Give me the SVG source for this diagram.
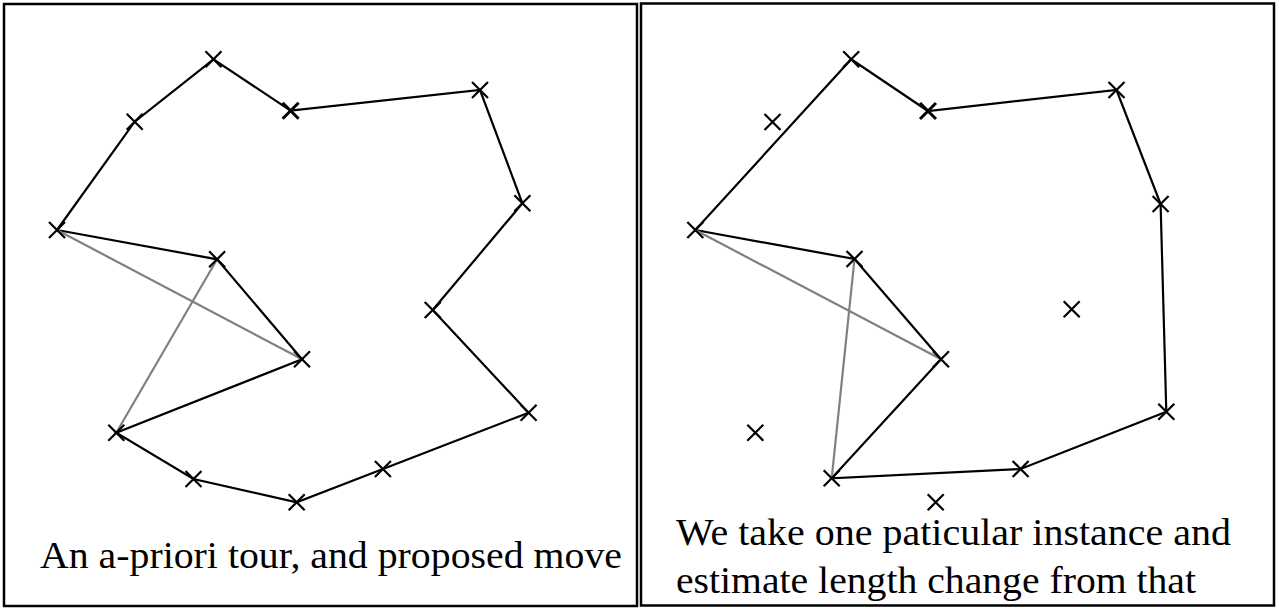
<svg xmlns="http://www.w3.org/2000/svg" width="1279" height="609" viewBox="0 0 1279 609">
<defs>
<style>
.frame{fill:#fff;stroke:#000;stroke-width:2.5}
.edge{stroke:#000;stroke-width:2.2;fill:none}
.move{stroke:#808080;stroke-width:2.2;fill:none}
.city{stroke:#000;stroke-width:2.2}
.lbl{font-family:"Liberation Serif","Times New Roman",serif;font-size:38px;fill:#000}
</style>
<path id="x" d="M-8,-8L8,8M-8,8L8,-8"/>
</defs>
<rect width="1279" height="609" fill="#fff"/>
<g id="panel-left">
<rect class="frame" x="4" y="4" width="633" height="602"/>
<g id="left-connectors">
<polyline class="edge" points="57,230 134.7,121.7 213.5,59.3 290.6,110.7 480,90 522.4,203.3 432.7,310 528.6,412.7 382.9,469 296.7,502.3 193.5,479 116.3,432.7 302,359.3 217.1,259.3 57,230"/>
<line class="move" x1="57" y1="230" x2="302" y2="359.3"/>
<line class="move" x1="217.1" y1="259.3" x2="116.3" y2="432.7"/>
</g>
<g id="left-cities" class="city">
<use href="#x" x="57" y="230"/>
<use href="#x" x="134.7" y="121.7"/>
<use href="#x" x="213.5" y="59.3"/>
<use href="#x" x="290.6" y="110.7" style="stroke-width:3"/>
<use href="#x" x="480" y="90"/>
<use href="#x" x="522.4" y="203.3"/>
<use href="#x" x="432.7" y="310"/>
<use href="#x" x="528.6" y="412.7"/>
<use href="#x" x="382.9" y="469"/>
<use href="#x" x="296.7" y="502.3"/>
<use href="#x" x="193.5" y="479"/>
<use href="#x" x="116.3" y="432.7"/>
<use href="#x" x="302" y="359.3"/>
<use href="#x" x="217.1" y="259.3"/>
</g>
<text class="lbl" x="40" y="568" textLength="582" lengthAdjust="spacingAndGlyphs">An a-priori tour, and proposed move</text>
</g>
<g id="panel-right">
<rect class="frame" x="641" y="3.5" width="633" height="602"/>
<g id="right-connectors">
<polyline class="edge" points="695.3,230 851.2,59.3 928,111 1116.5,90 1160.6,204 1166.3,411.7 1020.6,469 831.7,478.3 941,359.3 854.5,259 695.3,230"/>
<line class="move" x1="695.3" y1="230" x2="941" y2="359.3"/>
<line class="move" x1="854.5" y1="259" x2="831.7" y2="478.3"/>
</g>
<g id="right-cities" class="city">
<use href="#x" x="695.3" y="230"/>
<use href="#x" x="772.5" y="122"/>
<use href="#x" x="851.2" y="59.3"/>
<use href="#x" x="928" y="111" style="stroke-width:3"/>
<use href="#x" x="1116.5" y="90"/>
<use href="#x" x="1160.6" y="204"/>
<use href="#x" x="1071.7" y="309.3"/>
<use href="#x" x="1166.3" y="411.7"/>
<use href="#x" x="1020.6" y="469"/>
<use href="#x" x="935.7" y="502.3"/>
<use href="#x" x="831.7" y="478.3"/>
<use href="#x" x="755.3" y="432.7"/>
<use href="#x" x="941" y="359.3"/>
<use href="#x" x="854.5" y="259"/>
</g>
<text class="lbl" x="676" y="545" textLength="555" lengthAdjust="spacingAndGlyphs">We take one paticular instance and</text>
<text class="lbl" x="676" y="593" textLength="520" lengthAdjust="spacingAndGlyphs">estimate length change from that</text>
</g>
</svg>
